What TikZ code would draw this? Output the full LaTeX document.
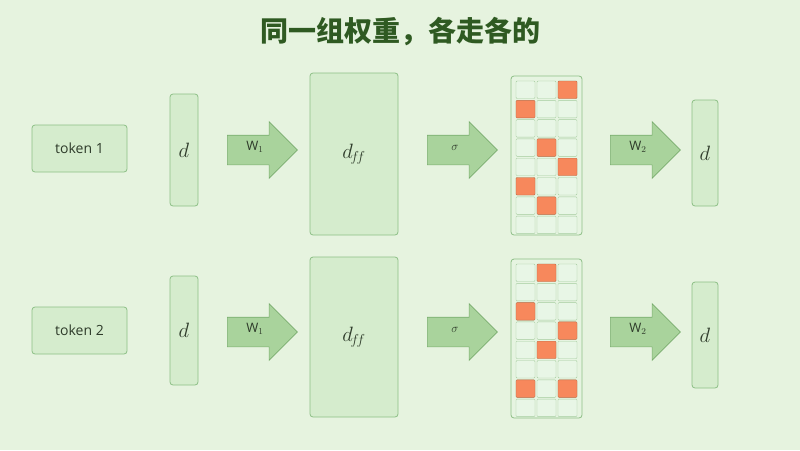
\documentclass[tikz,border=0pt]{standalone}
\usepackage{fontspec}
\newfontfamily\cjk{Noto Sans CJK SC}
\setsansfont{Open Sans}
\usetikzlibrary{positioning}
\usetikzlibrary{shapes.arrows}
\definecolor{bgc}{HTML}{E6F3DF}
\definecolor{boxc}{HTML}{D5ECCD}
\definecolor{linec}{HTML}{8DBF86}
\definecolor{arrc}{HTML}{A9D39C}
\definecolor{arrl}{HTML}{79AD6E}
\definecolor{cellc}{HTML}{E8F6E6}
\definecolor{hotc}{HTML}{F7885C}
\definecolor{titlec}{HTML}{2F5A22}
\definecolor{textc}{HTML}{2E3B2A}
\begin{document}
\begin{tikzpicture}[x=1pt, y=-1pt,
  box/.style = {draw=linec, fill=boxc, rounded corners=3pt, line width=0.8pt, text=textc},
  warrow/.style = {single arrow, draw=arrl, fill=arrc, line width=0.6pt, minimum width=56pt,
    minimum height=70pt, single arrow head extend=13.5pt, single arrow tip angle=90,
    inner xsep=0pt, inner ysep=0pt, text height=21pt, text depth=8pt, font=\sffamily\fontsize{13}{15}\selectfont, text=textc},
  mathtext/.style = {font=\fontsize{22}{26}\selectfont},
  cell/.style = {draw=linec!80, fill=cellc, rounded corners=1pt, line width=0.4pt},
  hot/.style = {draw=hotc!80!black, fill=hotc, rounded corners=1pt, line width=0.4pt}]

\fill [bgc] (0, 0) rectangle (800, 450);
\useasboundingbox (0, 0) rectangle (800, 450);

\node (title) [font=\cjk\bfseries\fontsize{28}{32}\selectfont, text=titlec] at (400, 32) {同一组权重，各走各的};

% row 1
\node (tok1) [box, minimum width=95pt, minimum height=47pt, font=\sffamily\fontsize{14}{16}\selectfont] at (79.5, 148.5) {token 1};
\node (din1) [box, mathtext, minimum width=28pt, minimum height=112pt] at (184, 150) {$d$};
\node (wa1) [warrow] at (255, 150) {\raisebox{6pt}{W$_1$}\hspace{22pt}};
\node (dff1) [box, mathtext, minimum width=88pt, minimum height=162pt] at (354, 154) {$d_{\!f\!f}$};
\node (sg1) [warrow] at (455, 150) {\raisebox{6pt}{\large$\sigma$}\hspace{22pt}};
\node (grid1) [box, fill=boxc!60, minimum width=71pt, minimum height=159pt] at (546.5, 155.5) {};
\node (wb1) [warrow] at (638, 150) {\raisebox{6pt}{W$_2$}\hspace{22pt}};
\node (dout1) [box, mathtext, minimum width=26pt, minimum height=106pt] at (705, 153) {$d$};

% row 2
\node (tok2) [box, minimum width=95pt, minimum height=47pt, font=\sffamily\fontsize{14}{16}\selectfont] at (79.5, 330.5) {token 2};
\node (din2) [box, mathtext, minimum width=28pt, minimum height=109pt] at (184, 330.5) {$d$};
\node (wa2) [warrow] at (255, 332) {\raisebox{6pt}{W$_1$}\hspace{22pt}};
\node (dff2) [box, mathtext, minimum width=88pt, minimum height=160pt] at (354, 337) {$d_{\!f\!f}$};
\node (sg2) [warrow] at (455, 332) {\raisebox{6pt}{\large$\sigma$}\hspace{22pt}};
\node (grid2) [box, fill=boxc!60, minimum width=71pt, minimum height=159pt] at (546.5, 338.5) {};
\node (wb2) [warrow] at (638, 332) {\raisebox{6pt}{W$_2$}\hspace{22pt}};
\node (dout2) [box, mathtext, minimum width=26pt, minimum height=106pt] at (705, 335) {$d$};

% activation cells
\foreach \g/\y in {1/81, 2/264} {
  \foreach \r in {0,...,7} {
    \foreach \c in {0,1,2} {
      \draw [cell] (516 + 21*\c, \y + 19.3*\r) rectangle ++(19, 17.5);
    }
  }
}
\foreach \r/\c in {0/2, 1/0, 3/1, 4/2, 5/0, 6/1}
  \draw [hot] (516 + 21*\c, 81 + 19.3*\r) rectangle ++(19, 17.5);
\foreach \r/\c in {0/1, 2/0, 3/2, 4/1, 6/0, 6/2}
  \draw [hot] (516 + 21*\c, 264 + 19.3*\r) rectangle ++(19, 17.5);

\end{tikzpicture}
\end{document}
